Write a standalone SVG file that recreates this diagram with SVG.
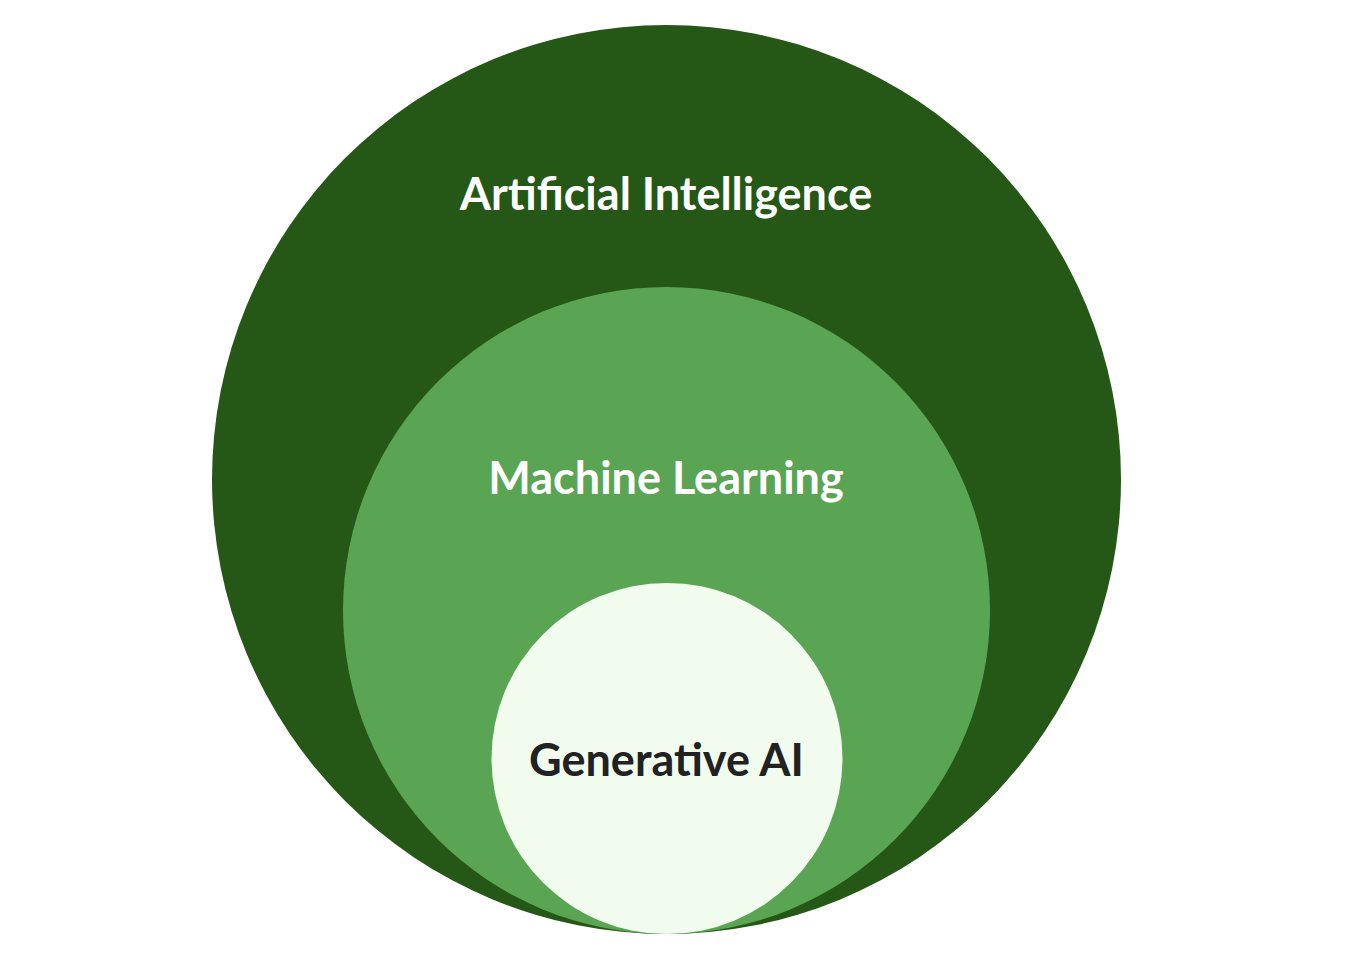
<svg xmlns="http://www.w3.org/2000/svg" width="1348" height="958" viewBox="0 0 1348 958">
  <style>
    .lbl { font-family: Lato, "Liberation Sans", sans-serif; font-weight: bold; font-size: 45px; text-anchor: middle; }
    .light { fill: #ffffff; }
    .dark { fill: #222222; }
  </style>
  <rect width="1348" height="958" fill="#ffffff"/>
  <g id="artificial-intelligence">
    <circle cx="666.5" cy="479.5" r="454.5" fill="#255716"/>
    <text class="lbl light" x="666" y="210">Artificial Intelligence</text>
  </g>
  <g id="machine-learning">
    <circle cx="666.5" cy="610.5" r="323.5" fill="#59a553"/>
    <text class="lbl light" x="666" y="494">Machine Learning</text>
  </g>
  <g id="generative-ai">
    <circle cx="667" cy="758.5" r="175.5" fill="#f1fcee"/>
    <text class="lbl dark" x="666.5" y="776">Generative AI</text>
  </g>
  <g id="connectors"></g>
</svg>
